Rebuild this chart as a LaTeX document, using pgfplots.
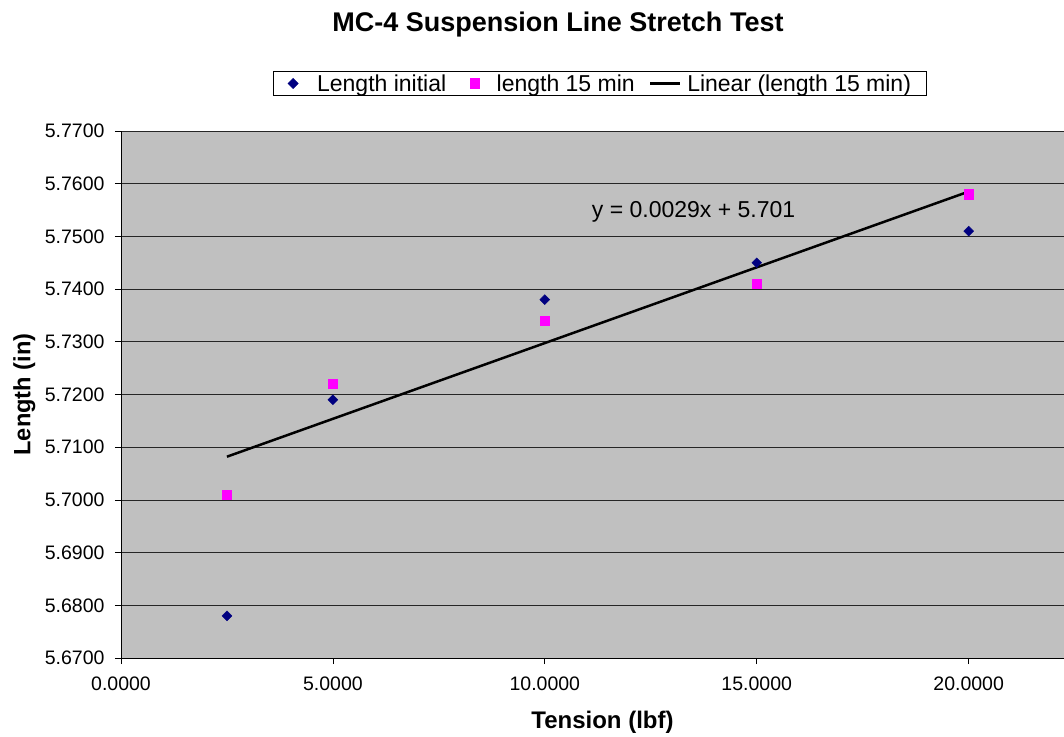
\documentclass[border=0pt]{standalone}
\usepackage{fontspec}
\setmainfont{Liberation Sans}
\usepackage{pgfplots}
\pgfplotsset{compat=1.18}
\definecolor{plotbg}{HTML}{C0C0C0}
\definecolor{navyblue}{HTML}{000080}
\definecolor{pinkm}{HTML}{FF00FF}
\pgfplotsset{trendlegend/.style={legend image code/.code={\draw[##1] (0pt,0pt) -- (30pt,0pt);}}}
\begin{document}
\begin{tikzpicture}
\useasboundingbox (-121pt,-78pt) rectangle (943pt,658pt);
\begin{axis}[
  at={(0pt,0pt)}, anchor=south west,
  scale only axis, width=943pt, height=527pt,
  xmin=0, xmax=22.25, ymin=5.67, ymax=5.77,
  xtick={0,5,10,15,20},
  ytick={5.67,5.68,5.69,5.70,5.71,5.72,5.73,5.74,5.75,5.76,5.77},
  scaled ticks=false,
  /pgf/number format/assume math mode=true,
  /pgf/number format/fixed,
  /pgf/number format/fixed zerofill,
  /pgf/number format/precision=4,
  x tick label style={yshift=-9pt},
  y tick label style={xshift=-7pt},
  tick label style={font=\fontsize{19.5}{23}\selectfont},
  axis background/.style={fill=plotbg},
  axis x line*=bottom, axis y line*=left,
  axis line style={black, line width=0.8pt},
  tick align=outside, major tick length=6pt,
  tick style={black, line width=0.8pt},
  ymajorgrids, major grid style={black!85, line width=0.8pt},
  every axis title shift=0pt,
  title={MC-4 Suspension Line Stretch Test},
  title style={at={(axis description cs:0.4634,1.1884)}, anchor=base, yshift=0pt, inner sep=0pt, font=\bfseries\fontsize{27}{31}\selectfont},
  xlabel={Tension (lbf)},
  xlabel style={at={(axis description cs:0.5106,-0.1347)}, anchor=base, inner sep=0pt, font=\bfseries\fontsize{24}{28}\selectfont},
  ylabel={Length (in)},
  ylabel style={at={(axis description cs:-0.1145,0.5)}, anchor=north, inner sep=0pt, font=\bfseries\fontsize{23.6}{27}\selectfont},
  legend columns=3,
  legend style={at={(axis description cs:0.161,1.1139)}, anchor=north west, draw=black, line width=0.8pt, fill=white,
    font=\fontsize{23}{27}\selectfont, inner xsep=15pt, inner ysep=1pt,
    nodes={inner xsep=0pt, inner ysep=2pt},
    /tikz/column 1/.style={column sep=19pt},
    /tikz/column 2/.style={column sep=24pt},
    /tikz/column 3/.style={column sep=17pt},
    /tikz/column 4/.style={column sep=14pt},
    /tikz/column 5/.style={column sep=6pt}},
]
\addplot[only marks, mark=square*, mark size=3.5pt, color=navyblue, mark options={rotate=45, fill=navyblue, draw=navyblue}]
  coordinates {(2.5,5.678) (5,5.719) (10,5.738) (15,5.745) (20,5.751)};
\addlegendentry{Length initial}
\addplot[only marks, mark=square*, mark size=4.7pt, color=pinkm, mark options={fill=pinkm, draw=pinkm}]
  coordinates {(2.5,5.701) (5,5.722) (10,5.734) (15,5.741) (20,5.758)};
\addlegendentry{length 15 min}
\addplot[black, line width=2.5pt, no marks, trendlegend]
  coordinates {(2.5,5.7082) (20,5.7585)};
\addlegendentry{Linear (length 15 min)}
\node[font=\fontsize{23}{27}\selectfont] at (axis cs:13.51,5.7547) {y = 0.0029x + 5.701};
\end{axis}
\end{tikzpicture}
\end{document}
